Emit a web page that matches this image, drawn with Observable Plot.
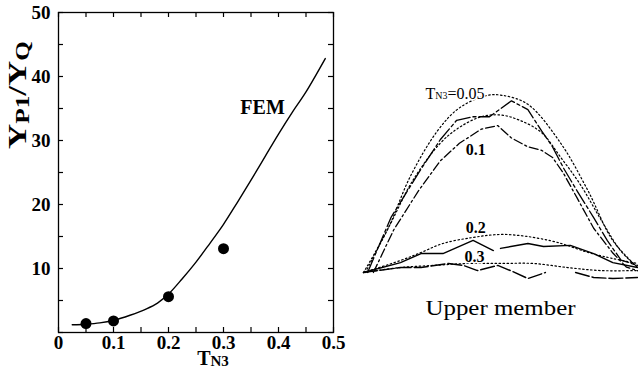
<!DOCTYPE html>
<html>
<head>
<meta charset="utf-8">
<script src="https://cdn.jsdelivr.net/npm/d3@7"></script>
<script src="https://cdn.jsdelivr.net/npm/@observablehq/plot@0.6"></script>
<style>
  html, body { margin: 0; padding: 0; background: #fff; }
  #wrap { position: relative; width: 638px; height: 376px; overflow: hidden; background: #fff; }
  #left { position: absolute; left: 0; top: 0; width: 345px; height: 376px; }
  #right { position: absolute; left: 340px; top: 0; width: 298px; height: 376px; }
  #wrap svg { max-width: none !important; overflow: visible; }
</style>
</head>
<body>
<div id="wrap"><div id="left"></div><div id="right"></div></div>
<script>
// ---------- Left panel data ----------
const femT     = [0.025, 0.05, 0.075, 0.1, 0.13, 0.16, 0.18, 0.2, 0.225, 0.25, 0.275, 0.3, 0.325, 0.35, 0.375, 0.4, 0.425, 0.45, 0.485];
const femRatio = [1.2, 1.3, 1.5, 1.9, 2.7, 3.7, 4.6, 6.0, 8.4, 11.0, 13.9, 16.9, 20.3, 23.8, 27.4, 31.0, 34.4, 37.6, 42.8];
const measT     = [0.05, 0.1, 0.2, 0.3];
const measRatio = [1.4, 1.8, 5.6, 13.1];
const xTickLabels = [0, 0.1, 0.2, 0.3, 0.4, 0.5];
const yTickLabels = [10, 20, 30, 40, 50];
const xMinorTicks = [0, 0.05, 0.1, 0.15, 0.2, 0.25, 0.3, 0.35, 0.4, 0.45, 0.5];
const yMinorTicks = [0, 5, 10, 15, 20, 25, 30, 35, 40, 45, 50];
const femLabel = {x: 0.371, y: 35.2, text: "FEM"};

// ---------- Right panel data (position along member %, deflection) ----------
const posFem05 = [0, 9, 17, 27, 35, 45, 51, 60, 72, 82, 91, 100];
const defFem05 = [0, 25, 54, 80, 93, 100, 100, 95, 73, 46, 18, 3];
const posExp05 = [1.5, 10, 20, 28, 34, 40, 46, 54, 60, 65, 69, 73, 78, 84, 89, 94, 100];
const defExp05 = [0, 31, 56, 75, 86, 88, 88, 97, 92, 80, 71, 59, 46, 31, 18, 7, 4];
const posFem10 = [0.7, 10, 18, 28, 35, 43, 50, 57, 65, 72, 79, 87, 94, 100];
const defFem10 = [0, 28, 52, 73, 82, 88, 89, 86, 79, 65, 50, 29, 12, 3];
const posExp10 = [3.6, 11, 20, 28, 35, 43, 49, 54, 60, 65, 69, 73, 78, 84, 91, 96, 100];
const defExp10 = [0, 24, 46, 63, 73, 81, 83, 76, 71, 69, 65, 56, 42, 25, 11, 3, 1];
const posFem20 = [0, 13.5, 21, 29, 40, 50, 60, 71, 82, 91, 100];
const defFem20 = [0, 6.8, 11.3, 16.4, 19.8, 21.5, 20.3, 16.9, 11.3, 7.9, 5.1];
const posExp20 = [0, 13.5, 21, 29, 40, 47.4, 48.5, 50, 60, 65.7, 75.5, 84, 91, 100];
const defExp20 = [0, 5.6, 10.7, 10.7, 18.1, 12.4, null, 13.6, 16.4, 14.7, 15.3, 10.7, 5.6, 2.8];
const posFem30 = [0, 13.5, 25.5, 38, 50, 62, 74.5, 86.5, 100];
const defFem30 = [0, 2.8, 4, 5.1, 5.1, 5.1, 2.8, 1.1, 1.1];
const posExp30 = [0, 13.5, 21, 31, 36.5, 41.6, 49, 53.6, 60, 66.4, 72, 77.4, 84, 91, 100];
const defExp30 = [0, 2.8, 2.8, 5.1, 4, 1.1, 4, 1.1, -3.4, 0, null, 0, -2.8, -3.4, -2.8];
const curveLabels = [
  {x: 41, y: 69, text: "0.1"},
  {x: 41, y: 25, text: "0.2"},
  {x: 40.5, y: 9, text: "0.3"}
];
const titleLabel = {x: 22.6, y: 101, main: "T", sub: "N3", rest: "=0.05"};
const panelCaption = {x: 50, text: "Upper member"};

const serif = "Liberation Serif";
const zip = (xs, ys) => xs.map((x, i) => ({x, y: ys[i]}));

// ---------- Left plot ----------
const W = 345, H = 376, mL = 58, mR = 12, mT = 12, mB = 44;
const innerW = W - mL - mR, innerH = H - mT - mB;
const tick = 5;
const left = Plot.plot({
  width: W, height: H,
  marginLeft: mL, marginRight: mR, marginTop: mT, marginBottom: mB,
  x: {domain: [0, 0.5]},
  y: {domain: [0, 50]},
  style: {fontFamily: serif, background: "transparent", color: "black", overflow: "visible"},
  marks: [
    Plot.frame({stroke: "black", strokeWidth: 1.3}),
    Plot.ruleX(xMinorTicks, {insetTop: innerH - tick, stroke: "black", strokeWidth: 1.2}),
    Plot.ruleX(xMinorTicks, {insetBottom: innerH - tick, stroke: "black", strokeWidth: 1.2}),
    Plot.ruleY(yMinorTicks, {insetRight: innerW - tick, stroke: "black", strokeWidth: 1.2}),
    Plot.ruleY(yMinorTicks, {insetLeft: innerW - tick, stroke: "black", strokeWidth: 1.2}),
    Plot.axisX({anchor: "bottom", ticks: xTickLabels, tickSize: 0, tickPadding: 3,
      tickFormat: d => d === 0 ? "0" : d.toFixed(1), label: null,
      fontSize: 19, fontWeight: "bold", fontFamily: serif}),
    Plot.axisY({anchor: "left", ticks: yTickLabels, tickSize: 0, tickPadding: 8,
      tickFormat: d => String(d), label: null,
      fontSize: 19, fontWeight: "bold", fontFamily: serif}),
    Plot.line(zip(femT, femRatio), {x: "x", y: "y", curve: "catmull-rom", stroke: "black", strokeWidth: 1.4}),
    Plot.dot(zip(measT, measRatio), {x: "x", y: "y", r: 5.5, fill: "black"}),
    Plot.text([femLabel], {x: "x", y: "y", text: "text", fontSize: 20, fontWeight: "bold", fontFamily: serif, fill: "black"})
  ]
});
document.getElementById("left").appendChild(left);

// axis titles with subscripts
const ls = d3.select(left);
const xt = ls.append("text").attr("x", 213).attr("y", 365).attr("text-anchor", "middle")
  .attr("font-family", serif).attr("font-weight", "bold").attr("font-size", 20).attr("fill", "black");
xt.append("tspan").text("T");
xt.append("tspan").attr("font-size", 15).attr("dy", 1).text("N3");

const yt = ls.append("text").attr("transform", "translate(26,95) rotate(-90) scale(1.4,1)")
  .attr("text-anchor", "middle")
  .attr("font-family", serif).attr("font-weight", "bold").attr("font-size", 25).attr("fill", "black");
yt.append("tspan").text("Y");
yt.append("tspan").attr("font-size", 18).attr("dy", 3).text("P1");
yt.append("tspan").attr("dy", -3).text("/Y");
yt.append("tspan").attr("font-size", 18).attr("dy", 3).text("Q");

// ---------- Right plot ----------
const dotted = {stroke: "black", strokeWidth: 1.2, strokeDasharray: "1.5 2.5", curve: "catmull-rom"};
const right = Plot.plot({
  width: 298, height: 376,
  marginLeft: 23, marginRight: 1, marginTop: 95, marginBottom: 104,
  x: {domain: [0, 100], axis: null},
  y: {domain: [0, 100], axis: null},
  style: {fontFamily: serif, background: "transparent", color: "black", overflow: "visible"},
  marks: [
    Plot.line(zip(posFem05, defFem05), {x: "x", y: "y", ...dotted}),
    Plot.line(zip(posFem10, defFem10), {x: "x", y: "y", ...dotted}),
    Plot.line(zip(posFem20, defFem20), {x: "x", y: "y", ...dotted}),
    Plot.line(zip(posFem30, defFem30), {x: "x", y: "y", ...dotted}),
    Plot.line(zip(posExp05, defExp05), {x: "x", y: "y", stroke: "black", strokeWidth: 1.3, strokeDasharray: "16 3 3 3"}),
    Plot.line(zip(posExp10, defExp10), {x: "x", y: "y", stroke: "black", strokeWidth: 1.3, strokeDasharray: "9 3 2 3"}),
    Plot.line(zip(posExp20, defExp20), {x: "x", y: "y", stroke: "black", strokeWidth: 1.4}),
    Plot.line(zip(posExp30, defExp30), {x: "x", y: "y", stroke: "black", strokeWidth: 1.4, strokeDasharray: "14 3"}),
    Plot.text(curveLabels, {x: "x", y: "y", text: "text", fontSize: 16, fontWeight: "bold", fontFamily: serif, fill: "black", stroke: "white", strokeWidth: 3, paintOrder: "stroke"}),
    Plot.text([titleLabel], {x: "x", y: "y", text: d => d.main + d.sub + d.rest, textAnchor: "start",
      fontSize: 16, fontFamily: serif, fill: "black", stroke: "white", strokeWidth: 3, paintOrder: "stroke"}),
    Plot.text([panelCaption], {x: "x", frameAnchor: "bottom", dy: 42, text: "text",
      fontSize: 21, fontFamily: serif, fill: "black"})
  ]
});
document.getElementById("right").appendChild(right);
// add subscript to the T_N3 label, stretch caption to the original's wide face
const rs = d3.select(right);
const fullTitle = titleLabel.main + titleLabel.sub + titleLabel.rest;
rs.selectAll("text").filter(function() { return this.textContent === fullTitle; }).each(function() {
  const t = d3.select(this);
  t.text(null);
  t.append("tspan").text(titleLabel.main);
  t.append("tspan").attr("font-size", 10).text(titleLabel.sub);
  t.append("tspan").text(titleLabel.rest);
});
rs.selectAll("text").filter(function() { return this.textContent === panelCaption.text; })
  .attr("textLength", 150).attr("lengthAdjust", "spacingAndGlyphs");
</script>
</body>
</html>
